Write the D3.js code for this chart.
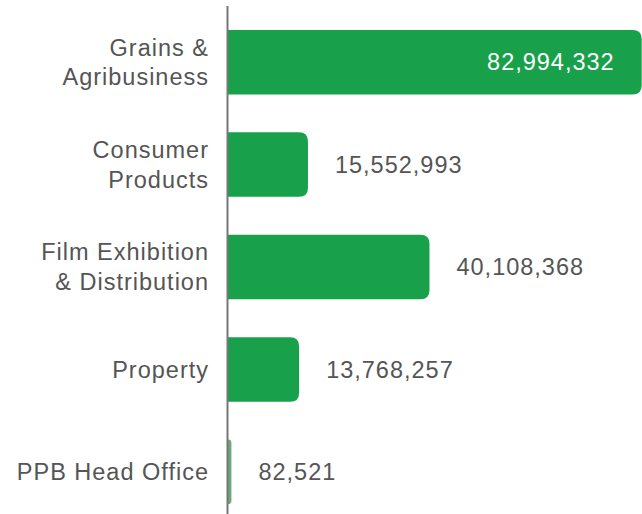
<!DOCTYPE html>
<html>
<head>
<meta charset="utf-8">
<script src="https://cdn.jsdelivr.net/npm/d3@7"></script>
<style>
  body { margin: 0; background: #fff; }
  text { font-family: "Liberation Sans", Arial, sans-serif; }
</style>
</head>
<body>
<div id="chart"></div>
<script>
// segment names, one array of lines per label
var categories = ["Grains & Agribusiness", "Consumer Products", "Film Exhibition & Distribution", "Property", "PPB Head Office"];
var labelLines = [["Grains &", "Agribusiness"], ["Consumer", "Products"], ["Film Exhibition", "& Distribution"], ["Property"], ["PPB Head Office"]];
var values = [82994332, 15552993, 40108368, 13768257, 82521];

var width = 642, height = 514;
var axisX = 228;
var green = "#18a04b";
var textColor = "#555555";

var svg = d3.select("#chart").append("svg")
    .attr("width", width)
    .attr("height", height);

var xScale = d3.scaleLinear()
    .domain([0, 82994332])
    .range([231, 641.7]);

var yScale = d3.scaleBand()
    .domain(categories)
    .range([11, 523])
    .paddingInner(0.37)
    .paddingOuter(0.185);

var data = categories.map(function(c, i) {
    return { cat: c, lines: labelLines[i], value: values[i] };
});

var fmt = d3.format(",");
var r = 9;

// bars with rounded right end
function barPath(d) {
    var x0 = axisX, x1 = xScale(d.value);
    var y0 = yScale(d.cat), y1 = y0 + yScale.bandwidth();
    var rr = Math.min(r, (x1 - x0));
    return "M" + x0 + "," + y0 +
        "H" + (x1 - rr) +
        "Q" + x1 + "," + y0 + " " + x1 + "," + (y0 + rr) +
        "V" + (y1 - rr) +
        "Q" + x1 + "," + y1 + " " + (x1 - rr) + "," + y1 +
        "H" + x0 + "Z";
}

svg.selectAll("path.bar")
    .data(data)
    .enter()
    .append("path")
    .attr("class", "bar")
    .attr("d", barPath)
    .attr("fill", function(d) { return xScale(d.value) - axisX < 5 ? "#6aa97c" : green; });

// category axis line
svg.append("line")
    .attr("x1", axisX - 0.5)
    .attr("x2", axisX - 0.5)
    .attr("y1", 6)
    .attr("y2", height)
    .attr("stroke", "#777")
    .attr("stroke-width", 2);

// category labels
var lineH = 29.5;
var labels = svg.selectAll("text.cat")
    .data(data)
    .enter()
    .append("text")
    .attr("class", "cat")
    .attr("text-anchor", "end")
    .attr("fill", textColor)
    .style("font-size", "23.5px")
    .style("letter-spacing", "1px");

labels.each(function(d) {
    var cy = yScale(d.cat) + yScale.bandwidth() / 2;
    var n = d.lines.length;
    var t = d3.select(this);
    d.lines.forEach(function(line, i) {
        t.append("tspan")
            .attr("x", 209)
            .attr("y", cy + (i - (n - 1) / 2) * lineH)
            .attr("dy", "0.35em")
            .text(line);
    });
});

// value labels
svg.selectAll("text.val")
    .data(data)
    .enter()
    .append("text")
    .attr("class", "val")
    .attr("x", function(d) {
        var x1 = xScale(d.value);
        return d.value > 60000000 ? x1 - 27 : x1 + 27;
    })
    .attr("y", function(d) { return yScale(d.cat) + yScale.bandwidth() / 2; })
    .attr("dy", "0.35em")
    .attr("text-anchor", function(d) { return d.value > 60000000 ? "end" : "start"; })
    .attr("fill", function(d) { return d.value > 60000000 ? "#fff" : textColor; })
    .style("font-size", "23.5px")
    .style("letter-spacing", "1px")
    .text(function(d) { return fmt(d.value); });
</script>
</body>
</html>
